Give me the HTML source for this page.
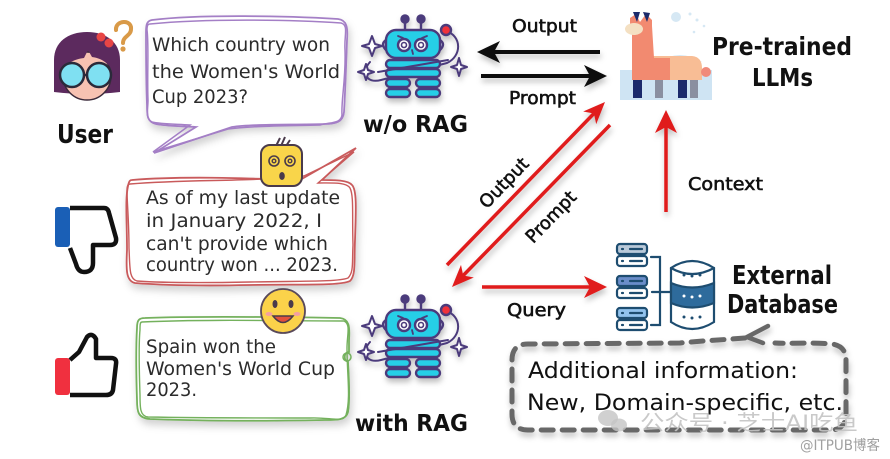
<!DOCTYPE html>
<html><head><meta charset="utf-8"><style>
html,body{margin:0;padding:0;background:#fff;}
svg{display:block;}
text{font-family:"DejaVu Sans","Liberation Sans","Noto Sans CJK SC",sans-serif;}
.b{font-weight:bold;fill:#111;}
.t{fill:#2b2b2b;font-size:19px;}
.l{fill:#111;font-size:18px;stroke:#111;stroke-width:0.6;}
</style></head><body>
<svg width="890" height="459" viewBox="0 0 890 459" xmlns="http://www.w3.org/2000/svg">
<defs>
<filter id="sh" x="-20%" y="-20%" width="140%" height="150%"><feDropShadow dx="2" dy="5" stdDeviation="4" flood-color="#000" flood-opacity="0.18"/></filter>
<filter id="sh2" x="-20%" y="-50%" width="140%" height="200%"><feDropShadow dx="1" dy="4" stdDeviation="3" flood-color="#000" flood-opacity="0.25"/></filter>
<g id="robot">
 <g stroke="#4b3b7b" stroke-width="2.4" stroke-linejoin="round" stroke-linecap="round">
  <path d="M446,31 C462,36 462,56 447,63 L381,80 C366,84 361,72 370,62" fill="none" stroke-width="2"/>
  <line x1="405" y1="30" x2="405" y2="23"/><circle cx="405" cy="19" r="3.5" fill="#4b3b7b"/>
  <line x1="421" y1="30" x2="421" y2="23"/><circle cx="421" cy="19" r="3.5" fill="#4b3b7b"/>
  <path d="M386,40 Q380,44 386,50" fill="#d8e4f4"/><path d="M440,40 Q446,44 440,50" fill="#d8e4f4"/>
  <rect x="386" y="30" width="54" height="28" rx="10" fill="#27cfe7"/>
  <circle cx="404" cy="45" r="6" fill="#fff"/><circle cx="404" cy="45" r="2.5" fill="none" stroke-width="1.6"/>
  <circle cx="421" cy="45" r="6" fill="#fff"/><circle cx="421" cy="45" r="2.5" fill="none" stroke-width="1.6"/>
  <path d="M398,36 L403,38 M427,36 L422,38 M412,50 L413,54" fill="none" stroke-width="1.8"/>
  <rect x="386" y="60" width="54" height="8" rx="4" fill="#27cfe7"/>
  <rect x="386" y="69" width="54" height="8" rx="4" fill="#27cfe7"/>
  <rect x="386" y="79" width="24" height="8" rx="4" fill="#27cfe7"/>
  <rect x="416" y="79" width="24" height="8" rx="4" fill="#27cfe7"/>
  <rect x="386" y="89" width="24" height="8" rx="4" fill="#27cfe7"/>
  <rect x="416" y="89" width="24" height="8" rx="4" fill="#27cfe7"/>
  <path d="M378,72 L448,60" fill="none" stroke-width="2"/>
  <circle cx="446" cy="30" r="5" fill="#f0333a"/>
  <path d="M372,36 L375,44 L382,46 L375,48 L372,56 L369,48 L362,46 L369,44 Z" fill="#fff" stroke-width="2"/>
  <path d="M366,64 L368,70 L374,72 L368,74 L366,80 L364,74 L358,72 L364,70 Z" fill="#fff" stroke-width="2"/>
  <path d="M459,58 L461,65 L467,67 L461,69 L459,76 L457,69 L451,67 L457,65 Z" fill="#fff" stroke-width="2"/>
 </g>
</g>
</defs>
<rect width="890" height="459" fill="#fff"/>

<!-- User avatar -->
<path d="M54,92 L54,60 C54,42 68,32 87,32 C106,32 120,42 120,60 L120,92 Q87,96 54,92 Z" fill="#5c2a5e"/>
<circle cx="87" cy="76" r="24" fill="#f7c2b2" stroke="#3a2a3a" stroke-width="1.5"/>
<path d="M60,72 C57,46 74,37 88,37 C103,37 117,46 114,72 C108,62 100,58 92,57 L88,50 L84,58 C75,59 66,63 60,72 Z" fill="#5c2a5e"/>
<circle cx="101" cy="37" r="4.5" fill="#e84545"/><circle cx="109" cy="43" r="4.5" fill="#e84545"/>
<line x1="84" y1="75" x2="87" y2="75" stroke="#2a2a3a" stroke-width="2.5"/>
<circle cx="72" cy="75" r="12" fill="#7fe0f2" stroke="#2a2a3a" stroke-width="2.5"/>
<circle cx="99" cy="75" r="12" fill="#7fe0f2" stroke="#2a2a3a" stroke-width="2.5"/>
<path d="M116,30 C115,20 132,19 131,29 C131,36 123,36 123,43" fill="none" stroke="#d99a48" stroke-width="4" stroke-linecap="round"/>
<circle cx="123" cy="49" r="2.6" fill="#d99a48"/>
<text class="b" x="57" y="143" font-size="26" textLength="56" lengthAdjust="spacingAndGlyphs">User</text>

<!-- Purple bubble -->
<g filter="url(#sh)">
<path d="M152,20 C200,14 290,16 338,19 C347,20 348,28 347,40 C346,70 345,95 344,112 C343,122 336,124 325,124 C290,125 250,124 232,127 L154,153 L196,127 C180,126 165,126 156,124 C147,122 147,115 147,105 C146,80 146,50 146,32 C146,24 147,21 152,20 Z" fill="#fff" stroke="#a47fc6" stroke-width="1.8"/>
</g>
<path d="M150,24 C210,18 300,20 341,23 C349,25 344,35 345,50 C346,80 341,100 342,115 C341,124 330,122 320,125 C280,126 250,126 228,129 L153,152 L190,125 C172,124 160,124 152,122 C145,119 148,110 148,100 C147,75 149,45 147,30 C147,25 148,24 150,24 Z" fill="none" stroke="#a47fc6" stroke-width="1.5"/>
<text class="t" x="152" y="51" textLength="178" lengthAdjust="spacingAndGlyphs">Which country won</text>
<text class="t" x="152" y="78" textLength="188" lengthAdjust="spacingAndGlyphs">the Women's World</text>
<text class="t" x="152" y="103" textLength="96" lengthAdjust="spacingAndGlyphs">Cup 2023?</text>

<!-- Red bubble -->
<g filter="url(#sh)">
<path d="M132,180 C180,176 240,178 300,180 L356,148 L322,180 C335,180 348,180 352,185 C357,190 356,210 355,240 C354,262 356,275 350,281 C340,286 300,284 250,285 C200,286 160,285 135,283 C126,281 126,270 127,250 C127,220 125,200 128,186 C129,181 130,180 132,180 Z" fill="#fff" stroke="#c95a5b" stroke-width="1.8"/>
</g>
<path d="M130,184 C190,179 250,182 304,176 L354,152 L318,183 C332,183 346,182 350,188 C354,196 352,215 353,245 C352,262 354,272 348,278 C338,282 300,281 250,282 C200,283 165,283 137,281 C129,279 130,268 129,248 C129,222 127,202 127,190 C127,186 128,184 130,184 Z" fill="none" stroke="#c95a5b" stroke-width="1.4"/>
<text class="t" x="146" y="204" textLength="194" lengthAdjust="spacingAndGlyphs">As of my last update</text>
<text class="t" x="146" y="227" textLength="176" lengthAdjust="spacingAndGlyphs">in January 2022, I</text>
<text class="t" x="146" y="250" textLength="182" lengthAdjust="spacingAndGlyphs">can't provide which</text>
<text class="t" x="146" y="271" textLength="192" lengthAdjust="spacingAndGlyphs">country won ... 2023.</text>

<!-- confused emoji -->
<g stroke="#4a3b4b" stroke-width="2">
<path d="M276,146 L280,138 M281,146 L285,137 M286,146 L290,140" fill="none"/>
<rect x="261" y="145" width="41" height="41" rx="9" fill="#f9d54a"/>
<circle cx="274" cy="161" r="5" fill="none" stroke-width="1.6"/><circle cx="274" cy="161" r="1.8" fill="none" stroke-width="1.4"/>
<circle cx="290" cy="161" r="5" fill="none" stroke-width="1.6"/><circle cx="290" cy="161" r="1.8" fill="none" stroke-width="1.4"/>
<ellipse cx="282" cy="176" rx="1.8" ry="3" fill="#4a3b4b"/>
</g>

<!-- Green bubble -->
<g filter="url(#sh)">
<path d="M145,318 C200,316 280,317 340,318 C349,319 350,326 349,340 L349,352 C344,352 343,360 348,362 C349,380 350,400 348,412 C346,420 338,420 325,420 C270,421 200,421 150,419 C138,418 137,412 137,400 C136,370 136,345 137,328 C137,320 139,318 145,318 Z" fill="#fff" stroke="#74b15d" stroke-width="1.8"/>
</g>
<path d="M142,322 C210,319 290,321 344,321 C351,324 347,335 347,348 C347,375 351,398 346,415 C343,423 330,417 310,418 C260,418 200,418 148,417 C140,416 140,408 140,395 C139,365 139,340 140,330 C140,325 140,322 142,322 Z" fill="none" stroke="#74b15d" stroke-width="1.4"/>
<circle cx="347" cy="357" r="4" fill="none" stroke="#74b15d" stroke-width="1.5"/>
<text class="t" x="146" y="353" textLength="130" lengthAdjust="spacingAndGlyphs">Spain won the</text>
<text class="t" x="146" y="375" textLength="189" lengthAdjust="spacingAndGlyphs">Women's World Cup</text>
<text class="t" x="146" y="396" textLength="51" lengthAdjust="spacingAndGlyphs">2023.</text>

<!-- smile emoji -->
<circle cx="283" cy="311" r="22" fill="#fbd24a" stroke="#5a4a5a" stroke-width="1.8"/>
<ellipse cx="275" cy="304" rx="2.5" ry="4" fill="#4a3b4b"/><ellipse cx="291" cy="304" rx="2.5" ry="4" fill="#4a3b4b"/>
<ellipse cx="269" cy="314" rx="3.5" ry="2" fill="#f4a0a0"/><ellipse cx="297" cy="314" rx="3.5" ry="2" fill="#f4a0a0"/>
<path d="M273,316 Q283,329 293,316 Z" fill="#e2503b" stroke="#4a3b4b" stroke-width="1.5"/>

<!-- thumbs -->
<rect x="55" y="207" width="15" height="40" rx="3" fill="#1a5fb6"/>
<path d="M70,208 L104,208 Q108,208 109,213 L116,238 Q117,245 110,245 L93,245 L93,263 Q93,272 84,272 Q78,272 76,264 L70,248" fill="none" stroke="#111" stroke-width="4.5" stroke-linejoin="round"/>
<rect x="55" y="358" width="15" height="37" rx="3" fill="#f0303f"/>
<path d="M70,360 L79,352 L87,337 Q92,332 96,339 L96,358 L111,358 Q117,358 116,364 L113,390 Q112,395 106,395 L70,395" fill="none" stroke="#111" stroke-width="4.5" stroke-linejoin="round"/>

<!-- robots -->
<g filter="url(#sh2)"><use href="#robot"/></g>
<g filter="url(#sh2)" transform="translate(0,280)"><use href="#robot"/></g>
<text class="b" x="363" y="132" font-size="23" textLength="105" lengthAdjust="spacingAndGlyphs">w/o RAG</text>
<text class="b" x="355" y="431" font-size="23" textLength="113" lengthAdjust="spacingAndGlyphs">with RAG</text>

<!-- black arrows -->
<g filter="url(#sh2)">
<line x1="600" y1="52" x2="494" y2="52" stroke="#111" stroke-width="4"/>
<polygon points="477,52 500,41 494,52 500,63" fill="#111"/>
<line x1="481" y1="76" x2="590" y2="76" stroke="#111" stroke-width="4"/>
<polygon points="607,76 584,65 590,76 584,87" fill="#111"/>
</g>
<text class="l" x="512" y="32" textLength="65" lengthAdjust="spacingAndGlyphs">Output</text>
<text class="l" x="509" y="104" textLength="67" lengthAdjust="spacingAndGlyphs">Prompt</text>

<!-- llama -->
<circle cx="676" cy="17" r="5" fill="#d6e8f4"/>
<circle cx="690" cy="14" r="1.5" fill="#d6e8f4"/><circle cx="697" cy="20" r="1.5" fill="#d6e8f4"/><circle cx="704" cy="26" r="1.3" fill="#d6e8f4"/><circle cx="694" cy="32" r="1.3" fill="#d6e8f4"/>
<path d="M658,62 Q680,48 702,62 Z" fill="#d6e8f4"/>
<rect x="620" y="70" width="92" height="30" fill="#cfe4f3"/>
<rect x="633" y="76" width="9" height="22" fill="#1b2a6b"/>
<rect x="678" y="76" width="9" height="22" fill="#1b2a6b"/>
<rect x="655" y="80" width="8" height="18" fill="#8a8fa0"/>
<rect x="690" y="80" width="8" height="18" fill="#8a8fa0"/>
<path d="M650,56 L692,56 Q702,57 702,68 L702,80 L650,80 Z" fill="#f8bd95"/>
<path d="M632,26 L652,26 L654,58 L670,58 L670,80 L632,80 Z" fill="#f28a70"/>
<path d="M630,18 L636,14 L640,22 L646,14 L652,20 L652,34 L630,34 Z" fill="#f28a70"/>
<path d="M633,12 L637,22 L640,12 Z M643,12 L647,22 L650,13 Z" fill="#1b2a6b"/>
<ellipse cx="634" cy="29" rx="9" ry="6" fill="#f4e0c2"/>
<circle cx="706" cy="72" r="5" fill="#f08a7a"/>
<text class="b" x="712" y="55" font-size="25" textLength="140" lengthAdjust="spacingAndGlyphs">Pre-trained</text>
<text class="b" x="752" y="86" font-size="25" textLength="61" lengthAdjust="spacingAndGlyphs">LLMs</text>

<!-- red arrows -->
<g filter="url(#sh2)">
<line x1="447" y1="265" x2="593.9" y2="113.5" stroke="#e01b1b" stroke-width="3.5"/>
<polygon points="605,102 583.2,111.5 593.9,113.5 596.2,124.1" fill="#e01b1b"/>
<line x1="610" y1="125" x2="463.2" y2="275.5" stroke="#e01b1b" stroke-width="3.5"/>
<polygon points="452,287 461,264.9 463.2,275.5 473.8,277.5" fill="#e01b1b"/>
<line x1="666" y1="212" x2="666" y2="127" stroke="#e01b1b" stroke-width="3.5"/>
<polygon points="666,110 655,133 666,127 677,133" fill="#e01b1b"/>
<line x1="482" y1="287" x2="590" y2="287" stroke="#e01b1b" stroke-width="3.5"/>
<polygon points="607,287 584,276 590,287 584,298" fill="#e01b1b"/>
</g>
<text class="l" transform="translate(504,183) rotate(-46)" x="0" y="6" text-anchor="middle" textLength="62" lengthAdjust="spacingAndGlyphs">Output</text>
<text class="l" transform="translate(551,217) rotate(-46)" x="0" y="6" text-anchor="middle" textLength="64" lengthAdjust="spacingAndGlyphs">Prompt</text>
<text class="l" x="688" y="190" textLength="75" lengthAdjust="spacingAndGlyphs">Context</text>
<text class="l" x="507" y="316" textLength="59" lengthAdjust="spacingAndGlyphs">Query</text>

<!-- database -->
<g stroke="#1e4d70" stroke-width="2.2" fill="none" stroke-linecap="round">
 <rect x="617" y="244" width="30" height="10" rx="3" fill="#b9c9d9"/><rect x="617" y="256" width="30" height="10" rx="3" fill="#fff"/>
 <rect x="617" y="276" width="30" height="10" rx="3" fill="#6a8dc9"/><rect x="617" y="288" width="30" height="10" rx="3" fill="#fff"/>
 <rect x="617" y="308" width="30" height="10" rx="3" fill="#92c3ee"/><rect x="617" y="320" width="30" height="10" rx="3" fill="#fff"/>
 <path d="M622,249 L623,249 M630,249 L642,249 M622,261 L623,261 M630,261 L642,261 M622,281 L623,281 M630,281 L642,281 M622,293 L623,293 M630,293 L642,293 M622,313 L623,313 M630,313 L642,313 M622,325 L623,325 M630,325 L642,325"/>
 <path d="M651,257 L660,257 L660,325 L651,325 M652,292 L671,292"/>
 <path d="M671,268 Q692,254 714,268 L714,322 Q692,336 671,322 Z" fill="#fff"/>
 <path d="M671,283 Q692,292 714,283 L714,303 Q692,312 671,303 Z" fill="#2e6b9c"/>
 <path d="M671,268 Q692,280 714,268"/>
</g>
<g fill="#1e4d70"><circle cx="684" cy="275" r="1.5"/><circle cx="692" cy="276" r="1.5"/><circle cx="700" cy="275" r="1.5"/>
<circle cx="684" cy="317" r="1.5"/><circle cx="692" cy="318" r="1.5"/><circle cx="700" cy="317" r="1.5"/></g>
<g fill="#fff"><circle cx="684" cy="296" r="1.5"/><circle cx="692" cy="297" r="1.5"/><circle cx="700" cy="296" r="1.5"/></g>
<text class="b" x="732" y="284" font-size="26" textLength="100" lengthAdjust="spacingAndGlyphs">External</text>
<text class="b" x="727" y="313" font-size="26" textLength="111" lengthAdjust="spacingAndGlyphs">Database</text>

<!-- dashed box -->
<g filter="url(#sh2)" fill="none" stroke="#686868" stroke-width="5" stroke-linecap="round">
<path d="M745,338 C720,340 700,341 680,343 L528,344 Q512,344 512,360 L512,414 Q512,430 528,430 L830,430 Q846,430 846,414 L846,360 Q846,346 832,344 C810,342 790,344 775,343" stroke-dasharray="12 9"/>
<path d="M768,326 L747,337 L763,343" stroke-width="4.5"/>
</g>
<text x="528" y="378" font-size="22" fill="#111" textLength="270" lengthAdjust="spacingAndGlyphs">Additional information:</text>
<text x="527" y="410" font-size="22" fill="#111" textLength="316" lengthAdjust="spacingAndGlyphs">New, Domain-specific, etc.</text>

<!-- watermark -->
<ellipse cx="608" cy="418" rx="10" ry="8" fill="#c4c4c4" opacity="0.8"/>
<ellipse cx="619" cy="425" rx="8" ry="6.5" fill="#c4c4c4" opacity="0.8"/>
<text x="640" y="430" font-size="21" fill="#c4c4c4" opacity="0.9" textLength="218" lengthAdjust="spacingAndGlyphs">公众号 · 芝士AI吃鱼</text>
<text x="800" y="450" font-size="14" fill="#a0a0a0" textLength="80" lengthAdjust="spacingAndGlyphs">@ITPUB博客</text>
</svg>
</body></html>
